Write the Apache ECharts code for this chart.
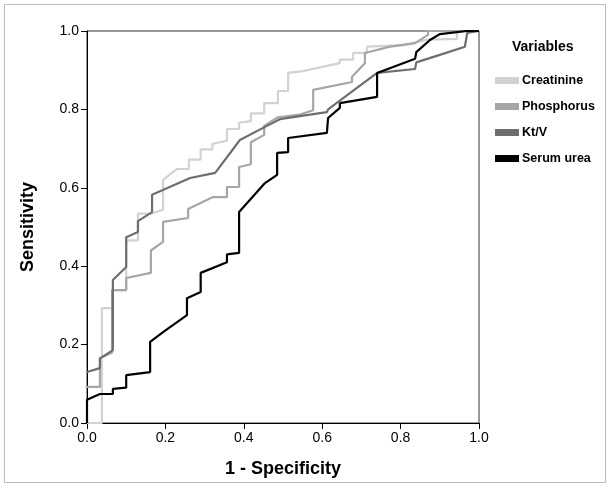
<!DOCTYPE html>
<html><head><meta charset="utf-8">
<script src="https://cdn.jsdelivr.net/npm/echarts@6/dist/echarts.min.js"></script>
<style>html,body{margin:0;padding:0;background:#fff}#c{width:611px;height:488px}</style>
</head><body><div id="c"></div>
<script>
const seriesNames = ['Creatinine','Phosphorus','Kt/V','Serum urea'];
const colors = ['#d2d2d2','#a6a6a6','#6e6e6e','#000000'];
const creatinine = [[0,0],[0.038,0],[0.038,0.293],[0.064,0.293],[0.064,0.339],[0.1,0.339],[0.1,0.466],[0.13,0.466],[0.13,0.534],[0.163,0.534],[0.194,0.544],[0.194,0.62],[0.23,0.648],[0.26,0.648],[0.26,0.672],[0.29,0.672],[0.29,0.698],[0.32,0.698],[0.32,0.712],[0.357,0.72],[0.357,0.75],[0.388,0.75],[0.388,0.766],[0.418,0.77],[0.418,0.79],[0.452,0.79],[0.452,0.816],[0.487,0.816],[0.487,0.847],[0.513,0.847],[0.513,0.893],[0.547,0.897],[0.547,0.9],[0.645,0.918],[0.645,0.927],[0.679,0.927],[0.679,0.944],[0.713,0.944],[0.715,0.96],[0.81,0.964],[0.867,0.978],[0.944,0.98],[0.944,1],[1,1]];
const phosphorus = [[0,0.092],[0.033,0.092],[0.033,0.165],[0.064,0.18],[0.064,0.339],[0.1,0.339],[0.1,0.37],[0.163,0.383],[0.163,0.44],[0.194,0.462],[0.194,0.513],[0.258,0.523],[0.258,0.546],[0.32,0.576],[0.357,0.576],[0.357,0.602],[0.388,0.602],[0.388,0.653],[0.418,0.66],[0.418,0.716],[0.452,0.735],[0.452,0.758],[0.487,0.78],[0.543,0.787],[0.577,0.798],[0.577,0.85],[0.676,0.87],[0.676,0.883],[0.709,0.918],[0.709,0.944],[0.773,0.96],[0.837,0.969],[0.87,0.99],[0.87,1],[1,1]];
const ktv = [[0,0.13],[0.033,0.14],[0.033,0.165],[0.066,0.186],[0.066,0.365],[0.1,0.398],[0.1,0.474],[0.13,0.487],[0.13,0.515],[0.166,0.538],[0.166,0.582],[0.263,0.625],[0.327,0.638],[0.39,0.722],[0.459,0.758],[0.492,0.775],[0.543,0.783],[0.612,0.793],[0.615,0.8],[0.74,0.893],[0.837,0.903],[0.84,0.92],[0.9,0.939],[0.9,0.94],[0.964,0.96],[0.97,0.995],[1,1]];
const serumUrea = [[0,0],[0,0.059],[0.033,0.074],[0.066,0.074],[0.066,0.087],[0.1,0.09],[0.1,0.122],[0.161,0.13],[0.161,0.207],[0.194,0.232],[0.255,0.275],[0.255,0.318],[0.29,0.334],[0.29,0.383],[0.357,0.41],[0.357,0.43],[0.388,0.434],[0.388,0.538],[0.454,0.612],[0.485,0.633],[0.485,0.689],[0.513,0.691],[0.513,0.727],[0.612,0.74],[0.615,0.778],[0.645,0.804],[0.645,0.816],[0.74,0.832],[0.74,0.893],[0.837,0.929],[0.84,0.946],[0.875,0.977],[0.9,0.992],[0.97,1],[1,1]];
const data = [creatinine, phosphorus, ktv, serumUrea];
const ticks = [0,0.2,0.4,0.6,0.8,1.0];
const F = 'Liberation Sans, Arial, sans-serif';
const chart = echarts.init(document.getElementById('c'));
const axisCommon = {type:'value',min:0,max:1,interval:0.2,
  axisLine:{show:true,lineStyle:{color:'#000',width:1}},
  axisTick:{show:true,length:6,lineStyle:{color:'#000'}},
  splitLine:{show:false},
  axisLabel:{color:'#000',fontSize:14,fontFamily:F,formatter:v=>v.toFixed(1)}};
chart.setOption({
  animation:false,
  grid:{left:87,top:31,width:392,height:392,show:true,borderColor:'#333',borderWidth:1},
  legend:{orient:'vertical',left:490,top:69,itemWidth:24,itemHeight:7,itemGap:13,icon:'rect',
    textStyle:{fontFamily:F,fontWeight:'bold',fontSize:12.5,color:'#000',padding:[0,0,0,-2],height:14},
    data:seriesNames},
  graphic:[
    {type:'rect',shape:{x:4.5,y:4.5,width:601,height:478},style:{fill:'none',stroke:'#bbb',lineWidth:1},silent:true},
    {type:'text',left:512,top:40,style:{text:'Variables',font:'bold 14px '+F,fill:'#000'}}
  ],
  xAxis:Object.assign({},axisCommon,{name:'1 - Specificity',nameLocation:'middle',nameGap:37,
    nameTextStyle:{fontFamily:F,fontWeight:'bold',fontSize:18,color:'#000'}}),
  yAxis:Object.assign({},axisCommon,{name:'Sensitivity',nameLocation:'middle',nameGap:50,
    nameTextStyle:{fontFamily:F,fontWeight:'bold',fontSize:18,color:'#000'}}),
  series:seriesNames.map((n,i)=>({name:n,type:'line',data:data[i],showSymbol:false,
    lineStyle:{color:colors[i],width:2.2},itemStyle:{color:colors[i]},z:2+i}))
});
</script></body></html>
